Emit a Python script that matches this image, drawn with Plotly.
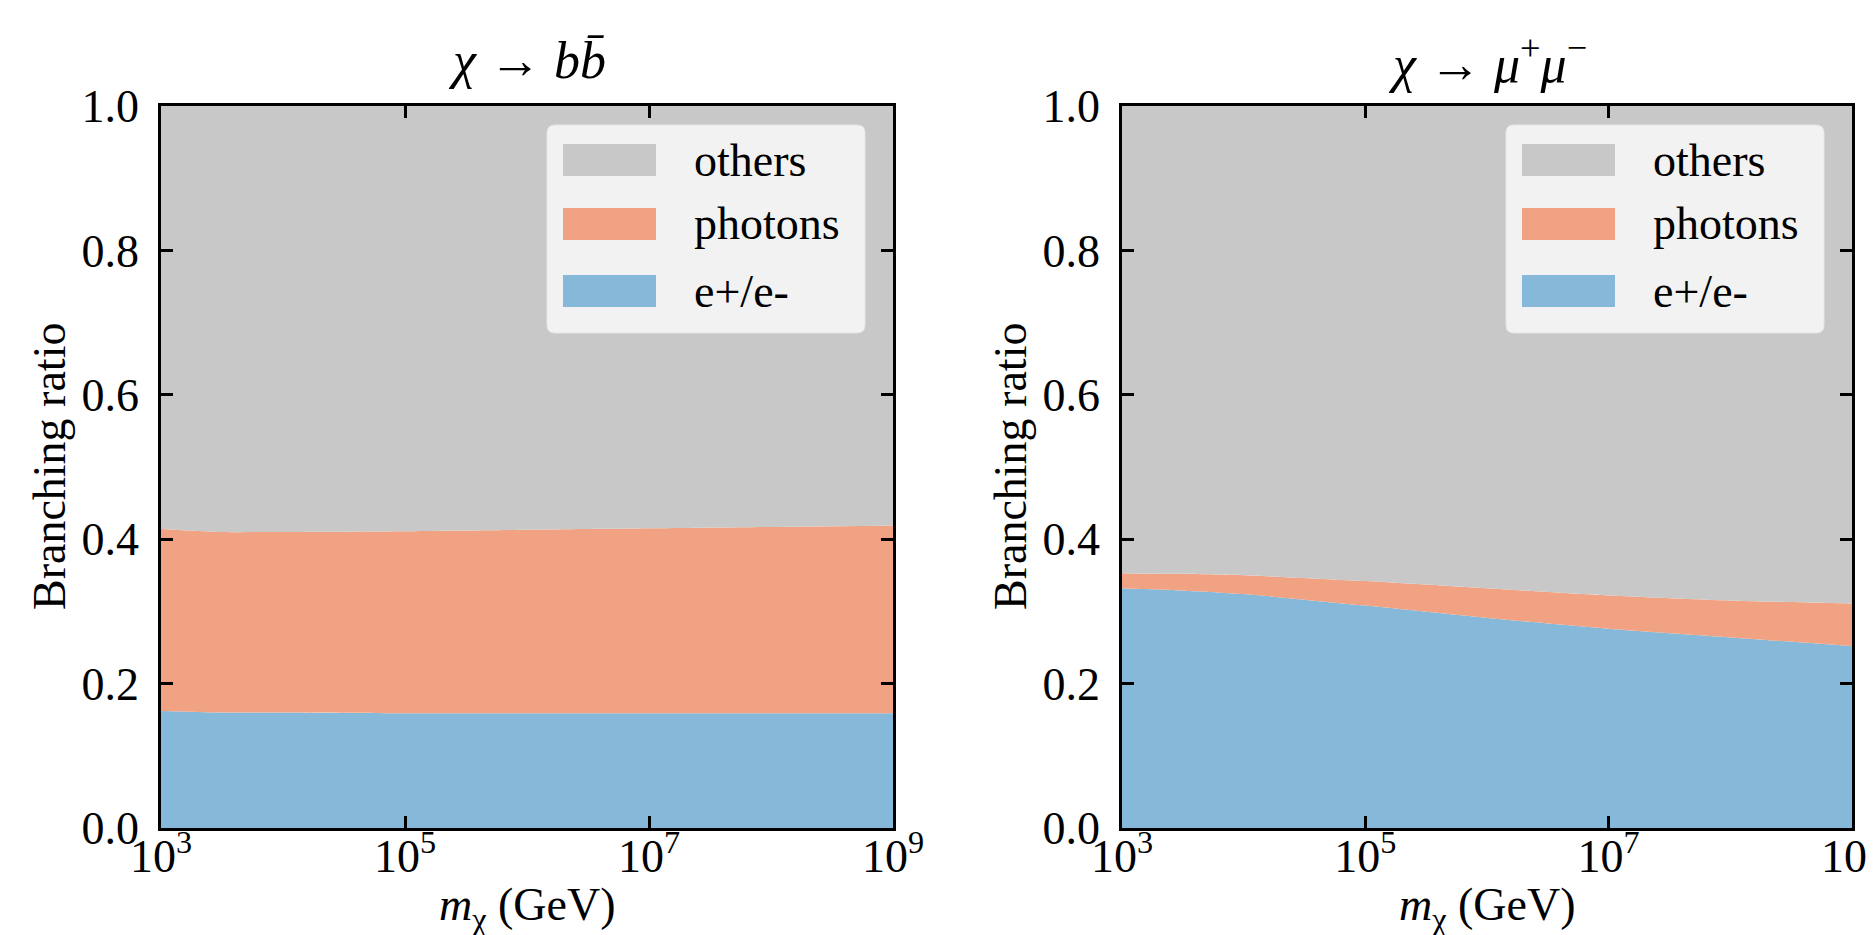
import plotly.graph_objects as go

# ---------------- data ----------------
masses = [1e3, 3e3, 1e4, 1e5, 1e6, 1e7, 1e8, 1e9]

bb_electrons = [0.162, 0.160, 0.160, 0.159, 0.159, 0.159, 0.159, 0.159]
bb_photons = [0.252, 0.250, 0.250, 0.252, 0.254, 0.256, 0.258, 0.260]

mumu_electrons = [0.332, 0.329, 0.324, 0.308, 0.291, 0.276, 0.264, 0.252]
mumu_photons = [0.021, 0.023, 0.026, 0.034, 0.041, 0.046, 0.051, 0.059]

series_names = ["others", "photons", "e+/e-"]
series_colors = {"others": "#c8c8c8", "photons": "#f1a282", "e+/e-": "#86b9d9"}

panel_titles = ["<i>χ</i> → <i>b</i><i>b̄</i>",
                "<i>χ</i> → <i>μ</i><sup>+</sup><i>μ</i><sup>−</sup>"]
x_tickvals = [1e3, 1e5, 1e7, 1e9]
x_ticktext = ["10<sup>3</sup>", "10<sup>5</sup>", "10<sup>7</sup>", "10<sup>9</sup>"]
y_tickvals = [0.0, 0.2, 0.4, 0.6, 0.8, 1.0]
y_ticktext = ["0.0", "0.2", "0.4", "0.6", "0.8", "1.0"]

W, H = 1874, 935
FONT = "Liberation Serif"
FS = 46
FS_TITLE = 52

# panel pixel boxes (left, right, top, bottom)
panels = [(153, 885, 98, 820), (1114, 1844, 98, 820)]


def px(x):
    return x / W


def py(y):
    return 1 - y / H


fig = go.Figure()

datasets = [(bb_electrons, bb_photons), (mumu_electrons, mumu_photons)]
for i, (ee, ph) in enumerate(datasets):
    others = [1 - a - b for a, b in zip(ee, ph)]
    xa = "x" if i == 0 else "x2"
    ya = "y" if i == 0 else "y2"
    for name, vals in [("e+/e-", ee), ("photons", ph), ("others", others)]:
        fig.add_trace(go.Scatter(
            x=masses, y=vals, name=name, xaxis=xa, yaxis=ya,
            stackgroup=f"s{i}", mode="lines",
            line=dict(width=0, color=series_colors[name], shape="spline", smoothing=0.6),
            fillcolor=series_colors[name], showlegend=False,
        ))

axis_common = dict(
    showline=True, linecolor="black", linewidth=2.5, mirror="ticks",
    ticks="inside", ticklen=12, tickwidth=2.5, tickcolor="black",
    showgrid=False, zeroline=False, automargin=False,
    ticklabeloverflow="allow",
    tickfont=dict(family=FONT, size=FS, color="black"),
)

layout = dict(
    width=W, height=H, margin=dict(l=0, r=0, t=0, b=0, autoexpand=False),
    paper_bgcolor="white", plot_bgcolor="white", showlegend=False,
    font=dict(family=FONT, size=FS, color="black"),
)

annotations = []
shapes = []
for i, (l, r, t, b) in enumerate(panels):
    sfx = "" if i == 0 else "2"
    layout["xaxis" + sfx] = dict(
        axis_common, type="log", range=[3, 9], domain=[px(l), px(r)],
        tickvals=x_tickvals, ticktext=x_ticktext, anchor="y" + sfx,
        ticklabelstandoff=-14,
    )
    layout["yaxis" + sfx] = dict(
        axis_common, range=[0, 1], domain=[py(b), py(t)],
        tickvals=y_tickvals, ticktext=y_ticktext, anchor="x" + sfx,
        ticklabelstandoff=10,
    )
    cx = (l + r) / 2
    # panel title
    annotations.append(dict(
        text=panel_titles[i], x=px(cx), y=py(52), xref="paper", yref="paper",
        xanchor="center", yanchor="middle", showarrow=False,
        font=dict(family=FONT, size=FS_TITLE, color="black")))
    # x title
    annotations.append(dict(
        text="<i>m</i><sub>χ</sub> (GeV)", x=px(cx), y=py(900), xref="paper", yref="paper",
        xanchor="center", yanchor="middle", showarrow=False,
        font=dict(family=FONT, size=FS, color="black")))
    # y title
    annotations.append(dict(
        text="Branching ratio", x=px(l - 112), y=py((t + b) / 2), xref="paper", yref="paper",
        xanchor="center", yanchor="middle", textangle=-90, showarrow=False,
        font=dict(family=FONT, size=FS, color="black")))

    # legend box (drawn manually to mimic matplotlib)
    bx0, bx1 = r - 346, r - 28
    by0, by1 = 117, 325
    rad = 8
    rx, ry = rad / W, rad / H
    X0, X1, Y0, Y1 = px(bx0), px(bx1), py(by1), py(by0)
    path = (f"M {X0+rx},{Y0} L {X1-rx},{Y0} Q {X1},{Y0} {X1},{Y0+ry} "
            f"L {X1},{Y1-ry} Q {X1},{Y1} {X1-rx},{Y1} L {X0+rx},{Y1} "
            f"Q {X0},{Y1} {X0},{Y1-ry} L {X0},{Y0+ry} Q {X0},{Y0} {X0+rx},{Y0} Z")
    shapes.append(dict(type="path", path=path, xref="paper", yref="paper",
                       fillcolor="#f2f2f2", line=dict(color="#e6e6e6", width=1)))
    row_centers = [152, 216, 283]
    for name, rc in zip(series_names, row_centers):
        shapes.append(dict(type="rect", xref="paper", yref="paper",
                           x0=px(bx0 + 16), x1=px(bx0 + 109),
                           y0=py(rc + 16), y1=py(rc - 16),
                           fillcolor=series_colors[name], line=dict(width=0)))
        annotations.append(dict(
            text=name, x=px(bx0 + 145), y=py(rc), xref="paper", yref="paper",
            xanchor="left", yanchor="middle", showarrow=False,
            font=dict(family=FONT, size=FS, color="black")))

layout["annotations"] = annotations
layout["shapes"] = shapes
fig.update_layout(**layout)

fig.write_html("out.html")
